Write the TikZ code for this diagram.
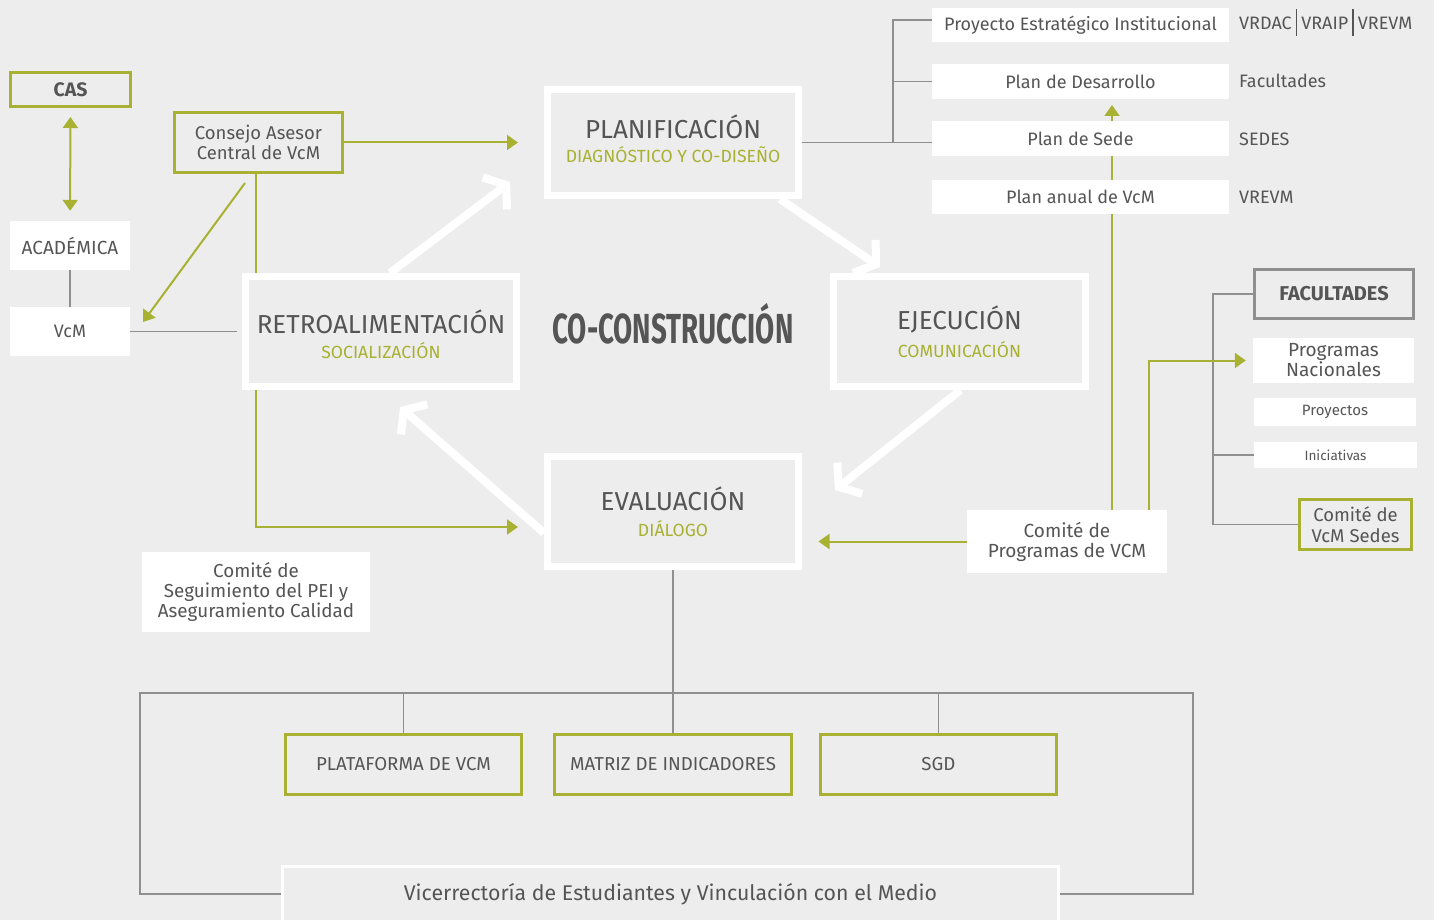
\documentclass[tikz,border=0pt]{standalone}
\usepackage{fontspec}
\setmainfont{Fira Sans}
\newfontfamily{\condfont}[FakeStretch=0.66]{Fira Sans}
\usetikzlibrary{arrows.meta}
\definecolor{fondo}{HTML}{EDEDED}
\definecolor{verde}{HTML}{A8B131}
\definecolor{texto}{HTML}{555555}
\definecolor{linea}{HTML}{8F8F8F}
\newcommand{\fsize}[1]{\fontsize{#1}{#1}\selectfont}
\newcommand{\barra}{\hspace{4pt}{\color{texto}\rule[-6pt]{1.6pt}{27pt}}\hspace{4pt}}

\begin{document}
\begin{tikzpicture}[x=1pt, y=-1pt, text=texto, font=\fsize{18}]
  \tikzset{
    faseb/.style={draw=white, line width=7pt, fill=fondo, inner sep=0pt},
    titulo/.style={anchor=base, inner sep=0pt, font=\fsize{26}},
    subt/.style={anchor=base, inner sep=0pt, text=verde, font=\fsize{17.6}},
    blanco/.style={fill=white, inner sep=0pt, align=center, font=\fontsize{18}{20}\selectfont},
    verdeb/.style={draw=verde, line width=3pt, fill=fondo, inner sep=0pt, align=center, font=\fontsize{18.5}{20.5}\selectfont},
    lado/.style={anchor=base west, inner sep=0pt, font=\fsize{18}},
    gris/.style={draw=linea, line width=1.5pt},
    punta/.tip={Triangle[length=11pt,width=15pt]},
    flecha/.style={draw=verde, line width=2pt, -punta},
    ciclo/.style={draw=white, line width=8pt, -{Straight Barb[length=14pt,width=40pt]}}
  }
  \useasboundingbox[fill=fondo] (0,0) rectangle (1434,920);

  \coordinate (t1) at (510,182);
  \coordinate (t2) at (880,267);
  \coordinate (t3) at (835,490);
  \coordinate (t4) at (400,407);
  \coordinate (d1) at (245,183);
  \coordinate (d2) at (143,322);
  \coordinate (bus) at (893,142);
  \coordinate (fbus) at (1213,0);
  \coordinate (abajo) at (673,693);
  \coordinate (izq) at (140,693);
  \coordinate (der) at (1193,693);

  \node[verdeb, minimum width=168pt, minimum height=60pt] (consejo) at (258.5,142.5) {Consejo Asesor\\Central de VcM};
  \draw[flecha, shorten >=29.5pt] (consejo.east) -- (consejo.east -| 547.5,0);
  \draw[flecha] (d1) -- (d2);
  \draw[flecha, shorten >=29.5pt] ([xshift=-2.5pt]consejo.south) |- (547.5,527);

  \node[faseb, minimum width=251pt, minimum height=106pt] (plan) at (673,142.5) {};
  \node[faseb, minimum width=271pt, minimum height=110pt] (retro) at (381,331.5) {};
  \node[faseb, minimum width=252pt, minimum height=110pt] (ejec) at (959.5,331.5) {};
  \node[faseb, minimum width=251pt, minimum height=110pt] (eval) at (673,511.5) {};

  \node[titulo] (plan-t) at (673,139) {PLANIFICACIÓN};
  \node[subt] (plan-s) at (673,163) {DIAGNÓSTICO Y CO-DISEÑO};
  \node[titulo] (retro-t) at (381,333) {RETROALIMENTACIÓN};
  \node[subt] (retro-s) at (381,358) {SOCIALIZACIÓN};
  \node[titulo] (ejec-t) at (959.5,329) {EJECUCIÓN};
  \node[subt] (ejec-s) at (959.5,357) {COMUNICACIÓN};
  \node[titulo] (eval-t) at (673,510) {EVALUACIÓN};
  \node[subt] (eval-s) at (673,536) {DIÁLOGO};
  \node[anchor=base, inner sep=0pt, font=\condfont\bfseries\fsize{42}] (centro) at (673,343) {CO-CONSTRUCCIÓN};

  \draw[ciclo] ([xshift=9pt]retro.north) -- (t1);
  \draw[ciclo] ([xshift=107pt]plan.south) -- (t2);
  \draw[ciclo] ([xshift=1pt]ejec.south) -- (t3);
  \draw[ciclo] ([yshift=-21.5pt]eval.west) -- (t4);

  \node[verdeb, minimum width=120pt, minimum height=34pt, font=\bfseries\fsize{19.5}] (cas) at (70.5,89.5) {CAS};
  \node[blanco, minimum width=120pt, minimum height=49pt, font=\fsize{19}] (acad) at (70,245.5) {ACADÉMICA};
  \node[blanco, minimum width=120pt, minimum height=49pt] (vcm) at (70,331.5) {VcM};
  \draw[draw=verde, line width=2pt, punta-punta, shorten <=9pt, shorten >=10pt] (cas) -- (acad);
  \draw[gris] (acad) -- (vcm);
  \draw[gris, shorten >=5pt] (vcm.east) -- (retro.west);

  \draw[gris] (plan.east) -- (plan.east -| 932,0);
  \draw[flecha, shorten >=6pt] (1112,510) -- (1112,99);
  \node[blanco, minimum width=297pt, minimum height=34pt] (pei) at (1080.5,25) {Proyecto Estratégico Institucional};
  \node[blanco, minimum width=297pt, minimum height=35pt] (desa) at (1080.5,81.5) {Plan de Desarrollo};
  \node[blanco, minimum width=297pt, minimum height=35pt] (sede) at (1080.5,138.5) {Plan de Sede};
  \node[blanco, minimum width=297pt, minimum height=34pt] (anual) at (1080.5,197) {Plan anual de VcM};
  \draw[gris] ([yshift=5pt]pei.west) -| (bus);
  \draw[gris] (desa.west) -- (desa.west -| bus);

  \node[lado] (l-pei) at (1239,30) {VRDAC\barra VRAIP\barra VREVM};
  \node[lado] (l-desa) at (1239,88) {Facultades};
  \node[lado] (l-sede) at (1239,146) {SEDES};
  \node[lado] (l-anual) at (1239,204) {VREVM};

  \node[blanco, minimum width=200pt, minimum height=63pt, font=\fontsize{19}{20}\selectfont] (comprog) at (1067,541.5) {Comité de\\Programas de VCM};
  \draw[flecha, shorten >=16.5pt] (comprog.west) -- (comprog.west -| eval.east);

  \node[draw=linea, line width=3pt, fill=fondo, inner sep=0pt, minimum width=159pt, minimum height=49pt, font=\bfseries\fsize{20}] (facu) at (1334,294) {FACULTADES};
  \node[blanco, minimum width=161pt, minimum height=45pt, font=\fontsize{19}{20}\selectfont] (prognac) at (1333.5,360.5) {Programas\\Nacionales};
  \node[blanco, minimum width=162pt, minimum height=28pt, font=\fsize{15}] (proy) at (1335,412) {Proyectos};
  \node[blanco, minimum width=163pt, minimum height=26pt, font=\fsize{13.5}] (inic) at (1335.5,455) {Iniciativas};
  \node[verdeb, minimum width=112pt, minimum height=50pt] (vcmsedes) at (1355.5,524.5) {Comité de\\VcM Sedes};
  \draw[gris] (facu.west) -| (fbus |- vcmsedes.west) -- (vcmsedes.west);
  \draw[gris] (inic.west) -- (inic.west -| fbus);
  \draw[flecha, shorten >=7pt] (1149,510) |- (prognac.west);

  \node[blanco, minimum width=228pt, minimum height=80pt, font=\fontsize{18.8}{20}\selectfont] (seguim) at (256,592) {Comité de\\Seguimiento del PEI y\\Aseguramiento Calidad};

  \node[verdeb, minimum width=236pt, minimum height=60pt, font=\fsize{18.7}] (plat) at (403.5,764.5) {PLATAFORMA DE VCM};
  \node[verdeb, minimum width=237pt, minimum height=60pt, font=\fsize{18.7}] (matriz) at (673,764.5) {MATRIZ DE INDICADORES};
  \node[verdeb, minimum width=236pt, minimum height=60pt, font=\fsize{18.7}] (sgd) at (938.5,764.5) {SGD};
  \node[draw=white, line width=3pt, fill=fondo, inner sep=0pt, minimum width=776pt, minimum height=56pt, font=\fsize{21.3}] (vice) at (670.5,894) {Vicerrectoría de Estudiantes y Vinculación con el Medio};

  \draw[gris] (eval.south) -- (abajo);
  \draw[gris] (vice.west) -| (izq) -- (der) |- (vice.east);
  \draw[gris] (plat.north) -- (plat.north |- abajo);
  \draw[gris] (matriz.north) -- (abajo);
  \draw[gris] (sgd.north) -- (sgd.north |- abajo);
\end{tikzpicture}
\end{document}
